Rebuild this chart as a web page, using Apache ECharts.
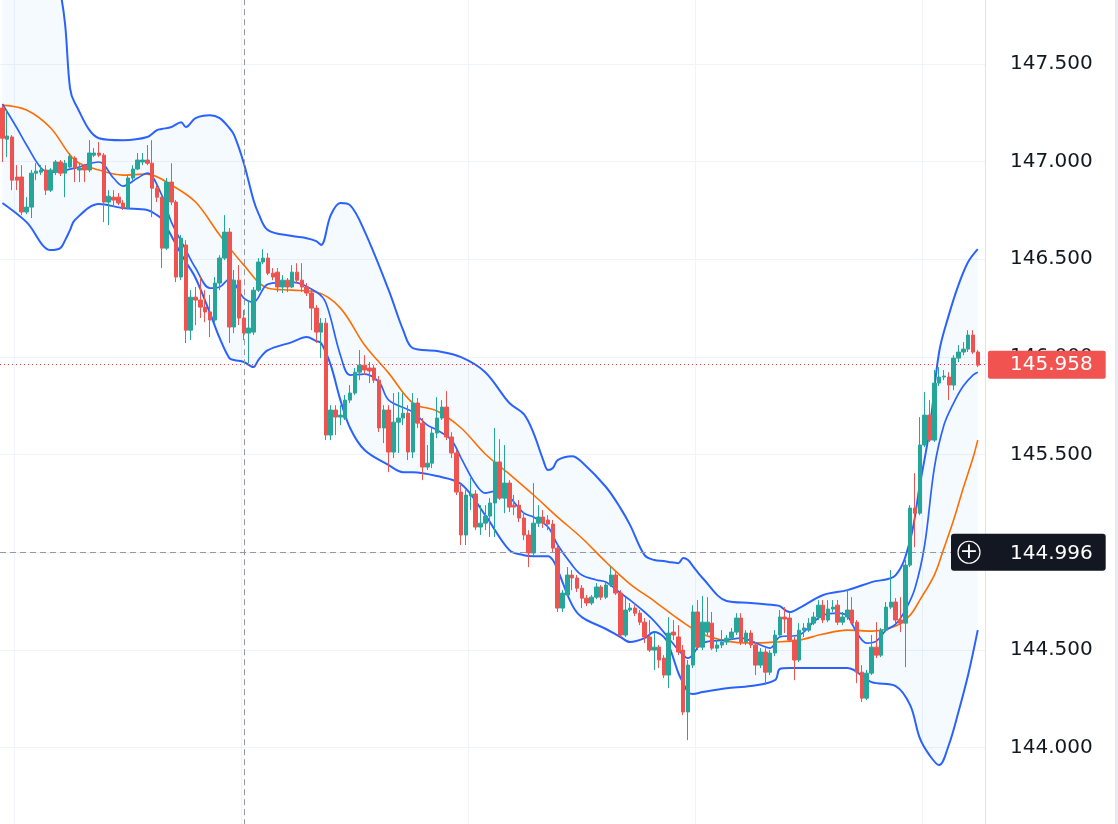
<!DOCTYPE html>
<html>
<head>
<meta charset="utf-8">
<script src="https://cdn.jsdelivr.net/npm/echarts@6.0.0/dist/echarts.min.js"></script>
<style>
  html, body { margin: 0; padding: 0; background: #fff; }
  #chart { width: 1118px; height: 824px; }
</style>
</head>
<body>
<div id="chart"></div>
<script>
// slot count on the time axis (last slot stays empty, like the right margin)
const slotCount = 204;
const cats = Array.from({ length: slotCount }, (_, i) => String(i));

// [open, close, low, high]
const candles = [
  [147.274,147.120,146.998,147.289],[147.115,147.131,147.023,147.264],[147.126,146.905,146.854,147.136],
  [146.921,146.905,146.854,146.982],[146.921,146.742,146.726,146.982],[146.742,146.767,146.731,146.818],
  [146.767,146.941,146.711,146.957],[146.941,146.951,146.905,146.992],[146.946,146.957,146.931,146.982],
  [146.957,146.854,146.829,146.982],[146.854,146.957,146.844,146.967],[146.946,146.998,146.931,147.008],
  [146.998,146.941,146.926,147.008],[146.941,146.992,146.818,147.008],[146.972,147.028,146.967,147.044],
  [147.018,146.967,146.895,147.028],[146.957,146.967,146.895,146.992],[146.977,146.957,146.895,146.987],
  [146.957,147.044,146.946,147.110],[147.033,147.044,147.023,147.069],[147.044,147.033,147.023,147.100],
  [147.033,146.793,146.690,147.044],[146.793,146.823,146.675,146.854],[146.818,146.803,146.767,146.854],
  [146.818,146.788,146.777,146.839],[146.788,146.762,146.752,146.803],[146.762,146.916,146.757,146.931],
  [146.916,146.962,146.905,146.982],[146.962,147.008,146.957,147.044],[146.998,147.008,146.982,147.044],
  [147.008,146.992,146.982,147.085],[146.992,146.864,146.716,147.110],[146.864,146.818,146.793,146.880],
  [146.818,146.557,146.455,146.829],[146.557,146.895,146.547,146.916],[146.895,146.793,146.777,146.992],
  [146.793,146.409,146.383,146.803],[146.409,146.608,146.393,146.624],[146.573,146.137,146.071,146.598],
  [146.137,146.306,146.086,146.342],[146.306,146.291,146.163,146.358],[146.291,146.255,146.199,146.409],
  [146.255,146.230,146.178,146.342],[146.230,146.189,146.102,146.317],[146.189,146.378,146.178,146.409],
  [146.378,146.506,146.342,146.521],[146.506,146.639,146.496,146.726],[146.639,146.153,146.071,146.660],
  [146.153,146.393,146.122,146.445],[146.393,146.199,146.163,146.470],[146.199,146.122,146.086,146.240],
  [146.122,146.148,145.968,146.291],[146.127,146.342,146.112,146.358],[146.342,146.486,146.332,146.506],
  [146.486,146.506,146.475,146.552],[146.506,146.429,146.419,146.532],[146.429,146.409,146.393,146.455],
  [146.434,146.358,146.332,146.455],[146.358,146.393,146.327,146.419],[146.393,146.358,146.332,146.404],
  [146.358,146.434,146.352,146.470],[146.434,146.393,146.378,146.480],[146.393,146.358,146.332,146.480],
  [146.358,146.327,146.312,146.378],[146.327,146.250,146.137,146.342],[146.250,146.127,146.071,146.265],
  [146.127,146.173,145.994,146.199],[146.173,145.600,145.574,146.199],[145.600,145.728,145.574,145.753],
  [145.728,145.692,145.600,145.753],[145.692,145.702,145.651,145.753],[145.687,145.779,145.677,145.805],
  [145.779,145.815,145.764,145.856],[145.815,145.922,145.805,145.943],[145.922,145.958,145.881,146.035],
  [145.958,145.933,145.907,146.009],[145.943,145.928,145.866,145.974],[145.943,145.881,145.866,145.958],
  [145.881,145.636,145.615,145.902],[145.636,145.728,145.559,145.753],[145.728,145.513,145.410,145.753],
  [145.513,145.666,145.482,145.815],[145.666,145.687,145.508,145.820],[145.687,145.712,145.651,145.815],
  [145.712,145.513,145.472,145.753],[145.513,145.764,145.482,145.815],[145.764,145.661,145.636,145.789],
  [145.661,145.436,145.369,145.687],[145.436,145.456,145.421,145.549],[145.456,145.610,145.431,145.636],
  [145.610,145.687,145.584,145.794],[145.687,145.743,145.677,145.779],[145.743,145.590,145.574,145.825],
  [145.590,145.508,145.482,145.615],[145.508,145.308,145.293,145.523],[145.308,145.088,145.037,145.344],
  [145.088,145.293,145.037,145.318],[145.288,145.298,145.216,145.380],[145.298,145.129,145.113,145.318],
  [145.129,145.149,145.088,145.241],[145.149,145.185,145.113,145.241],[145.185,145.252,145.078,145.277],
  [145.252,145.462,145.078,145.636],[145.462,145.277,145.267,145.579],[145.277,145.354,145.200,145.549],
  [145.354,145.231,145.206,145.369],[145.241,145.231,145.190,145.293],[145.241,145.175,145.154,145.267],
  [145.175,145.088,145.062,145.206],[145.088,144.996,144.924,145.113],[144.996,145.149,144.985,145.354],
  [145.149,145.180,145.129,145.241],[145.180,145.149,145.124,145.216],[145.165,145.144,145.113,145.190],
  [145.144,145.021,145.001,145.165],[145.021,144.714,144.694,145.037],[144.714,144.791,144.694,144.806],
  [144.781,144.883,144.770,144.924],[144.883,144.868,144.806,144.909],[144.868,144.816,144.796,144.883],
  [144.816,144.765,144.714,144.832],[144.765,144.740,144.724,144.781],[144.740,144.770,144.729,144.781],
  [144.770,144.822,144.760,144.842],[144.822,144.770,144.755,144.832],[144.770,144.832,144.760,144.847],
  [144.832,144.883,144.822,144.924],[144.883,144.791,144.781,144.898],[144.791,144.576,144.566,144.806],
  [144.576,144.704,144.566,144.770],[144.704,144.714,144.694,144.740],[144.714,144.688,144.673,144.729],
  [144.688,144.642,144.627,144.704],[144.642,144.566,144.535,144.663],[144.566,144.499,144.489,144.653],
  [144.499,144.514,144.397,144.586],[144.514,144.448,144.407,144.525],[144.458,144.371,144.356,144.473],
  [144.371,144.586,144.304,144.668],[144.591,144.576,144.550,144.653],[144.566,144.489,144.473,144.627],
  [144.499,144.182,144.166,144.525],[144.182,144.422,144.038,144.448],[144.422,144.694,144.407,144.729],
  [144.694,144.514,144.499,144.755],[144.514,144.642,144.499,144.776],[144.591,144.642,144.576,144.770],
  [144.637,144.509,144.499,144.694],[144.509,144.525,144.489,144.550],[144.525,144.540,144.509,144.601],
  [144.540,144.560,144.525,144.576],[144.560,144.591,144.550,144.612],[144.591,144.663,144.576,144.688],
  [144.663,144.540,144.525,144.688],[144.540,144.586,144.525,144.601],[144.586,144.525,144.509,144.601],
  [144.525,144.422,144.371,144.540],[144.422,144.489,144.407,144.509],[144.489,144.386,144.320,144.509],
  [144.386,144.484,144.371,144.499],[144.484,144.576,144.468,144.601],[144.576,144.668,144.566,144.704],
  [144.668,144.658,144.586,144.719],[144.663,144.550,144.540,144.688],[144.550,144.448,144.345,144.566],
  [144.448,144.601,144.438,144.637],[144.601,144.612,144.566,144.637],[144.601,144.637,144.591,144.663],
  [144.637,144.668,144.627,144.694],[144.668,144.729,144.653,144.755],[144.729,144.653,144.637,144.755],
  [144.653,144.709,144.642,144.755],[144.709,144.719,144.694,144.755],[144.729,144.642,144.627,144.755],
  [144.642,144.668,144.627,144.694],[144.668,144.704,144.653,144.806],[144.704,144.637,144.627,144.770],
  [144.642,144.386,144.330,144.653],[144.386,144.253,144.233,144.422],[144.253,144.381,144.243,144.397],
  [144.381,144.514,144.371,144.576],[144.514,144.473,144.458,144.642],[144.473,144.601,144.463,144.612],
  [144.601,144.719,144.591,144.745],[144.719,144.745,144.709,144.909],[144.745,144.653,144.637,144.765],
  [144.653,144.637,144.591,144.770],[144.637,144.934,144.412,144.960],[144.934,145.226,144.924,145.241],
  [145.226,145.200,145.026,145.405],[145.200,145.549,145.190,145.692],[145.549,145.702,145.538,145.820],
  [145.702,145.574,145.564,145.779],[145.574,145.866,145.564,145.933],[145.866,145.897,145.851,145.948],
  [145.897,145.902,145.881,145.933],[145.897,145.856,145.779,145.922],[145.856,145.994,145.830,146.009],
  [145.994,146.025,145.974,146.061],[146.025,146.040,146.009,146.076],[146.040,146.112,146.025,146.137],
  [146.112,146.025,146.015,146.137],[146.025,145.958,145.948,146.035]
];

// bollinger bands, read at these candle slots
const bandIdx = [0,5,10,12,13,14,15,20,25,30, 32,33,35,37,38,40,43,45,47,48,
  50,52,53,55,60,63,65,66,68,70, 72,75,80,83,85,90,95,100,105,108,
  110,112,113,114,115,118,120,125,128,130, 133,135,137,138,140,141,142,143,145,150,
  155,160,161,163,165,170,175,180,185,188, 190,192,194,196,198,200,202];
const upper = [148.697,148.441,148.083,147.868,147.699,147.376,147.300,147.120,147.110,147.126,
  147.161,147.167,147.177,147.202,147.177,147.223,147.238,147.223,147.172,147.136,
  146.992,146.803,146.736,146.649,146.619,146.608,146.593,146.573,146.726,146.788,
  146.777,146.644,146.342,146.137,146.045,146.030,145.999,145.922,145.764,145.707,
  145.610,145.472,145.421,145.431,145.472,145.492,145.462,145.334,145.226,145.139,
  144.985,144.960,144.955,144.950,144.944,144.970,144.960,144.929,144.868,144.750,
  144.740,144.729,144.724,144.694,144.714,144.781,144.806,144.847,144.883,145.062,
  145.344,145.625,146.025,146.214,146.368,146.486,146.552];
const lower = [146.788,146.690,146.547,146.557,146.598,146.649,146.701,146.783,146.762,146.752,
  146.726,146.706,146.619,146.527,146.486,146.404,146.224,146.096,145.994,145.984,
  145.974,145.948,145.984,146.035,146.076,146.102,146.081,146.071,145.958,145.779,
  145.636,145.523,145.446,145.410,145.410,145.390,145.349,145.190,145.011,144.985,
  144.980,144.980,144.980,144.960,144.909,144.729,144.668,144.607,144.566,144.540,
  144.560,144.591,144.566,144.525,144.381,144.330,144.284,144.274,144.284,144.304,
  144.315,144.345,144.402,144.407,144.407,144.407,144.407,144.335,144.315,144.217,
  144.048,143.961,143.910,144.013,144.182,144.371,144.601];

// band basis (orange)
const basisIdx = [0,5,10,15,20,25,30,35,40,45,50,55,60,65,70,75,80,85,90,95,100,105,110,115,120,
  125,130,135,140,145,150,155,160,165,170,175,180,185,188,190,193,195,197,199,201,202];
const basis = [147.289,147.264,147.172,147.008,146.957,146.931,146.936,146.880,146.793,146.624,
  146.470,146.352,146.342,146.332,146.250,146.061,145.917,145.764,145.723,145.636,
  145.503,145.400,145.293,145.180,145.073,144.950,144.837,144.750,144.658,144.581,
  144.545,144.535,144.540,144.550,144.581,144.601,144.596,144.622,144.678,144.755,
  144.883,145.021,145.165,145.329,145.482,145.574];

// fast moving average (inner blue)
const fastIdx = [0,3,5,8,10,15,20,23,25,28,30,33,35,38,40,43,45,47,50,52,55,60,65,67,70,72,75,78,80,85,
  88,90,93,95,98,100,103,105,108,110,113,115,118,120,123,125,128,130,133,135,138,140,142,145,150,
  153,157,159,161,165,168,170,173,175,177,179,181,183,185,187,189,191,193,195,197,199,201,202];
const fast = [147.295,147.172,147.085,146.967,146.946,146.967,146.998,146.916,146.875,146.916,
  146.941,146.829,146.690,146.547,146.455,146.352,146.358,146.399,146.301,146.281,
  146.373,146.383,146.332,146.276,146.009,145.907,145.912,145.871,145.779,145.718,
  145.651,145.626,145.574,145.482,145.349,145.303,145.318,145.283,145.200,145.180,
  145.129,145.037,144.934,144.883,144.858,144.847,144.791,144.755,144.694,144.647,
  144.560,144.499,144.458,144.535,144.550,144.560,144.525,144.509,144.566,144.576,
  144.642,144.678,144.688,144.673,144.586,144.535,144.545,144.601,144.632,144.704,
  144.816,145.037,145.431,145.651,145.764,145.851,145.907,145.922];

const crossPrice = 144.996;
const crossIdx = 50;
const lastClose = candles[candles.length - 1][1];

const labelFont = 'DejaVu Sans';
const blue = '#2962ff';

const chart = echarts.init(document.getElementById('chart'), null, { renderer: 'canvas' });

const lowerPts = bandIdx.map((k, j) => [k, lower[j]]);
const widthPts = bandIdx.map((k, j) => [k, +(upper[j] - lower[j]).toFixed(3)]);

const option = {
  animation: false,
  grid: { left: 0, right: 133, top: -33.7, bottom: -21.2, containLabel: false, outerBoundsMode: 'none' },
  xAxis: {
    type: 'category',
    data: cats,
    boundaryGap: true,
    axisLine: { show: false },
    axisTick: { show: false },
    axisLabel: { show: false },
    splitLine: {
      show: true,
      interval: (i) => i % 47 === 3,
      lineStyle: { color: '#f0f3fa', width: 1 }
    }
  },
  yAxis: {
    type: 'value',
    position: 'right',
    min: 143.5,
    max: 148,
    interval: 0.5,
    axisLine: { show: true, lineStyle: { color: '#e0e3eb' } },
    axisTick: { show: false },
    axisLabel: {
      margin: 25,
      color: '#131722',
      fontSize: 20,
      fontFamily: labelFont,
      padding: [4, 0, 0, 0],
      formatter: (v) => v.toFixed(3)
    },
    splitLine: { lineStyle: { color: '#f0f3fa', width: 1 } }
  },
  graphic: [
    { type: 'rect', right: 0, top: 0, shape: { width: 3, height: 824 }, style: { fill: '#e9ebf0' } }
  ],
  series: [
    {
      name: 'lower',
      type: 'line',
      stack: 'bb',
      data: lowerPts,
      smooth: 0.35,
      symbol: 'none',
      lineStyle: { color: blue, width: 2 },
      z: 2
    },
    {
      name: 'upper',
      type: 'line',
      stack: 'bb',
      data: widthPts,
      smooth: 0.35,
      symbol: 'none',
      lineStyle: { color: blue, width: 2 },
      areaStyle: { color: 'rgba(33,150,243,0.06)' },
      z: 2
    },
    {
      name: 'basis',
      type: 'line',
      data: basisIdx.map((k, j) => [k, basis[j]]),
      smooth: 0.35,
      symbol: 'none',
      lineStyle: { color: '#ff6d00', width: 1.6 },
      z: 3
    },
    {
      name: 'fast',
      type: 'line',
      data: fastIdx.map((k, j) => [k, fast[j]]),
      smooth: 0.35,
      symbol: 'none',
      lineStyle: { color: blue, width: 1.7 },
      z: 3
    },
    {
      name: 'price',
      type: 'candlestick',
      data: candles,
      barWidth: 4,
      itemStyle: {
        color: '#26a69a',
        color0: '#ef5350',
        borderColor: '#26a69a',
        borderColor0: '#ef5350',
        borderWidth: 1
      },
      z: 5,
      markLine: {
        silent: true,
        animation: false,
        symbol: ['none', 'none'],
        data: [
          {
            yAxis: lastClose,
            lineStyle: { color: '#f23645', type: [1, 3], width: 1 },
            label: {
              show: true,
              position: 'end',
              distance: 3,
              formatter: lastClose.toFixed(3),
              backgroundColor: '#f05350',
              color: '#ffffff',
              fontFamily: labelFont,
              fontSize: 20,
              lineHeight: 20,
              padding: [5, 13, 3, 22],
              borderRadius: 2
            }
          },
          {
            yAxis: crossPrice,
            lineStyle: { color: '#9598a1', type: [6, 4], width: 1 },
            label: {
              show: true,
              position: 'end',
              distance: -34,
              formatter: '{i|+}{v|' + crossPrice.toFixed(3) + '}',
              backgroundColor: '#131722',
              padding: [7, 13, 7, 7],
              borderRadius: 3,
              rich: {
                i: {
                  width: 22, height: 22, lineHeight: 22, align: 'center',
                  color: '#ffffff', fontSize: 22, fontFamily: 'DejaVu Sans',
                  borderColor: '#ffffff', borderWidth: 1.2, borderRadius: 12
                },
                v: {
                  color: '#ffffff', fontSize: 20, fontFamily: labelFont,
                  padding: [3, 0, 0, 30]
                }
              }
            }
          },
          {
            xAxis: cats[crossIdx],
            lineStyle: { color: '#9598a1', type: [6, 4], width: 1 },
            label: { show: false }
          }
        ]
      }
    }
  ]
};

chart.setOption(option);
</script>
</body>
</html>
